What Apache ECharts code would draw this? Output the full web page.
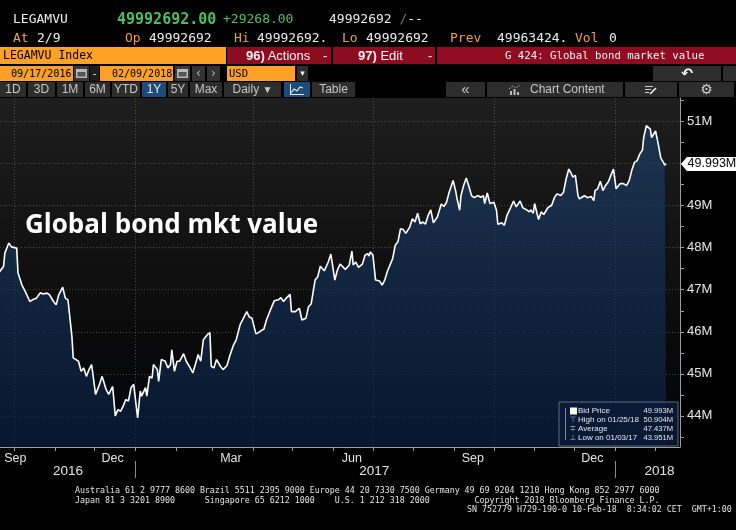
<!DOCTYPE html>
<html>
<head>
<meta charset="utf-8">
<title>LEGAMVU Index</title>
<script src="https://cdn.jsdelivr.net/npm/echarts@6/dist/echarts.min.js"></script>
<style>
html, body { margin: 0; padding: 0; background: #000; }
#wrap { position: relative; width: 736px; height: 530px; overflow: hidden; background: #000; }
#chart { position: absolute; left: 0; top: 0; width: 736px; height: 530px; }
.t { position: absolute; white-space: pre; font-family: "DejaVu Sans Mono", monospace; font-size: 13px; line-height: 16px; color: #ececec; }
.o { color: #efa149; }
.g { color: #49c25b; }
.b { position: absolute; box-sizing: border-box; overflow: hidden; white-space: pre; }
.or { background: #ffa126; color: #000; font-family: "DejaVu Sans Mono", monospace; font-size: 10px; }
.rd { background: #8c0d20; color: #f2f2f2; height: 17px; line-height: 17px; top: 47px; }
.gy { background: #2d2d2d; color: #c6c6c6; font-family: "Liberation Sans", sans-serif; font-size: 12px; text-align: center; line-height: 15px; top: 82px; height: 15px; }
.bl { background: #1c4c7c; color: #e6e6e6; }
.ft { position: absolute; white-space: pre; font-family: "DejaVu Sans Mono", monospace; font-size: 8.3px; line-height: 10px; color: #e4e4e4; }
svg { display: block; }
</style>
</head>
<body>
<div id="wrap">
  <div id="chart"></div>

  <!-- quote lines -->
  <div class="t" style="left:13px;top:11px">LEGAMVU</div>
  <div class="t g" style="left:117px;top:11px;font-size:15px;font-weight:bold">49992692.00</div>
  <div class="t g" style="left:223px;top:11px">+29268.00</div>
  <div class="t" style="left:329px;top:11px">49992692 <span style="color:#777">/</span>--</div>

  <div class="t o" style="left:13px;top:30px">At</div>
  <div class="t" style="left:37px;top:30px">2/9</div>
  <div class="t o" style="left:125px;top:30px">Op</div>
  <div class="t" style="left:149px;top:30px">49992692</div>
  <div class="t o" style="left:234px;top:30px">Hi</div>
  <div class="t" style="left:257px;top:30px">49992692.</div>
  <div class="t o" style="left:342px;top:30px">Lo</div>
  <div class="t" style="left:366px;top:30px">49992692</div>
  <div class="t o" style="left:450px;top:30px">Prev</div>
  <div class="t" style="left:497px;top:30px">49963424.</div>
  <div class="t o" style="left:575px;top:30px">Vol</div>
  <div class="t" style="left:609px;top:30px">0</div>

  <!-- title bar -->
  <div class="b or" style="left:0;top:47px;width:226px;height:17px;line-height:17px;padding-left:3px;font-size:11.5px">LEGAMVU Index</div>
  <div class="b rd" style="left:227px;width:104px;font-family:'Liberation Sans',sans-serif;font-size:13px;padding-left:19px"><b>96)</b> Actions<span style="position:absolute;left:96px;top:0">-</span></div>
  <div class="b rd" style="left:333px;width:102px;font-family:'Liberation Sans',sans-serif;font-size:13px;padding-left:25px"><b>97)</b> Edit<span style="position:absolute;left:95px;top:0">-</span></div>
  <div class="b rd" style="left:437px;width:299px;font-family:'DejaVu Sans Mono',monospace;font-size:10.7px;padding-left:68px;background:#900c21">G 424: Global bond market value</div>

  <!-- date row -->
  <div class="b or" style="left:0;top:66px;width:73px;height:15px;line-height:15px;padding-left:11px">09/17/2016</div>
  <div class="b" style="left:74px;top:66px;width:15px;height:15px;background:#3a3a3a;padding:3px 2px"><svg width="11" height="9"><rect x="0" y="0" width="11" height="9" fill="#b9b9b9"/><rect x="1.5" y="3" width="8" height="4.5" fill="#555"/></svg></div>
  <div class="b" style="left:90px;top:66px;width:9px;height:15px;background:#1e1e1e;color:#eee;font:11px 'Liberation Sans';line-height:15px;text-align:center">-</div>
  <div class="b or" style="left:100px;top:66px;width:73px;height:15px;line-height:15px;padding-left:12px">02/09/2018</div>
  <div class="b" style="left:175px;top:66px;width:15px;height:15px;background:#3a3a3a;padding:3px 2px"><svg width="11" height="9"><rect x="0" y="0" width="11" height="9" fill="#b9b9b9"/><rect x="1.5" y="3" width="8" height="4.5" fill="#555"/></svg></div>
  <div class="b" style="left:192px;top:66px;width:13px;height:15px;background:#333;color:#bbb;font:12px 'DejaVu Sans';line-height:15px;text-align:center">&lsaquo;</div>
  <div class="b" style="left:207px;top:66px;width:13px;height:15px;background:#333;color:#bbb;font:12px 'DejaVu Sans';line-height:15px;text-align:center">&rsaquo;</div>
  <div class="b or" style="left:227px;top:66px;width:68px;height:15px;line-height:15px;padding-left:2px;font-size:10.5px">USD</div>
  <div class="b" style="left:297px;top:66px;width:11px;height:15px;background:#2e2e2e;color:#eee;font:9px 'DejaVu Sans';line-height:15px;text-align:center">&#9662;</div>
  <div class="b" style="left:653px;top:66px;width:68px;height:15px;background:#2e2e2e;color:#fff;font:bold 14px 'DejaVu Sans';line-height:15px;text-align:center">&#8630;</div>
  <div class="b" style="left:723px;top:66px;width:13px;height:15px;background:#2e2e2e"></div>

  <!-- range buttons -->
  <div class="b gy" style="left:0;width:26px">1D</div>
  <div class="b gy" style="left:28px;width:27px">3D</div>
  <div class="b gy" style="left:57px;width:26px">1M</div>
  <div class="b gy" style="left:85px;width:25px">6M</div>
  <div class="b gy" style="left:112px;width:28px">YTD</div>
  <div class="b gy bl" style="left:142px;width:24px">1Y</div>
  <div class="b gy" style="left:168px;width:20px">5Y</div>
  <div class="b gy" style="left:190px;width:32px">Max</div>
  <div class="b gy" style="left:224px;width:57px">Daily <span style="font-size:10px">&#9660;</span></div>
  <div class="b gy bl" style="left:284px;width:26px;padding:2px 6px"><svg width="14" height="11"><polyline points="1,9 4,5 7,7 10,3 13,4" fill="none" stroke="#e8e8e8" stroke-width="1.2"/><line x1="0" y1="10.5" x2="14" y2="10.5" stroke="#e8e8e8"/><line x1="0.5" y1="0" x2="0.5" y2="11" stroke="#e8e8e8"/></svg></div>
  <div class="b gy" style="left:312px;width:43px">Table</div>
  <div class="b gy" style="left:446px;width:39px;font-size:15px;line-height:14px">&laquo;</div>
  <div class="b gy" style="left:487px;width:136px;text-align:left;padding-left:23px"><span style="position:absolute;left:22px;top:3px"><svg width="12" height="10"><rect x="1" y="6" width="2" height="4" fill="#bbb"/><rect x="4.5" y="4" width="2" height="6" fill="#bbb"/><rect x="8" y="7" width="2" height="3" fill="#bbb"/><polyline points="0,4 4,1 7,3 11,0" fill="none" stroke="#bbb" stroke-dasharray="1,1"/></svg></span><span style="position:absolute;left:43px">Chart Content</span></div>
  <div class="b gy" style="left:625px;width:52px;padding:3px 20px"><svg width="12" height="10"><line x1="0" y1="1.5" x2="8" y2="1.5" stroke="#ccc"/><line x1="0" y1="4.5" x2="6" y2="4.5" stroke="#ccc"/><line x1="0" y1="7.5" x2="4" y2="7.5" stroke="#ccc"/><line x1="5" y1="9" x2="11" y2="3" stroke="#eee" stroke-width="1.6"/></svg></div>
  <div class="b gy" style="left:679px;width:55px;font:14px 'DejaVu Sans';line-height:15px;color:#cfcfcf">&#9881;</div>

  <!-- footer -->
  <div class="ft" style="left:75px;top:485px">Australia 61 2 9777 8600 Brazil 5511 2395 9000 Europe 44 20 7330 7500 Germany 49 69 9204 1210 Hong Kong 852 2977 6000</div>
  <div class="ft" style="left:75px;top:495px">Japan 81 3 3201 8900      Singapore 65 6212 1000    U.S. 1 212 318 2000         Copyright 2018 Bloomberg Finance L.P.</div>
  <div class="ft" style="left:467px;top:504px">SN 752779 H729-190-0 10-Feb-18  8:34:02 CET  GMT+1:00</div>
</div>

<script>
// index level, millions of USD
var dates = [
    '2016-09-19', '2016-09-20', '2016-09-23', '2016-09-24', '2016-09-27', '2016-09-29',
    '2016-10-03', '2016-10-04', '2016-10-07', '2016-10-09', '2016-10-10', '2016-10-13', '2016-10-15',
    '2016-10-18', '2016-10-21', '2016-10-23', '2016-10-26', '2016-10-28', '2016-10-31',
    '2016-11-02', '2016-11-04', '2016-11-07', '2016-11-09', '2016-11-11', '2016-11-14', '2016-11-15',
    '2016-11-19', '2016-11-21', '2016-11-23', '2016-11-25', '2016-11-27', '2016-11-29',
    '2016-12-02', '2016-12-05', '2016-12-07', '2016-12-10', '2016-12-12', '2016-12-15', '2016-12-17',
    '2016-12-19', '2016-12-21', '2016-12-23', '2016-12-25', '2016-12-27', '2016-12-29', '2016-12-31',
    '2017-01-03', '2017-01-05', '2017-01-06', '2017-01-09', '2017-01-10', '2017-01-12', '2017-01-14',
    '2017-01-15', '2017-01-18', '2017-01-19', '2017-01-21', '2017-01-24', '2017-01-26', '2017-01-28',
    '2017-01-29', '2017-01-31',
    '2017-02-02', '2017-02-04', '2017-02-07', '2017-02-09', '2017-02-12', '2017-02-14', '2017-02-17',
    '2017-02-18', '2017-02-20', '2017-02-22', '2017-02-25', '2017-02-27', '2017-02-28',
    '2017-03-02', '2017-03-04', '2017-03-07', '2017-03-09', '2017-03-12', '2017-03-14', '2017-03-17',
    '2017-03-19', '2017-03-22', '2017-03-23', '2017-03-27', '2017-03-29', '2017-03-31',
    '2017-04-03', '2017-04-05', '2017-04-07', '2017-04-09', '2017-04-11', '2017-04-14', '2017-04-17',
    '2017-04-20', '2017-04-22', '2017-04-24', '2017-04-26', '2017-04-29', '2017-04-30',
    '2017-05-03', '2017-05-06', '2017-05-08', '2017-05-11', '2017-05-13', '2017-05-15', '2017-05-18',
    '2017-05-20', '2017-05-22', '2017-05-25', '2017-05-28', '2017-05-30',
    '2017-06-02', '2017-06-04', '2017-06-06', '2017-06-08', '2017-06-10', '2017-06-13', '2017-06-15',
    '2017-06-16', '2017-06-18', '2017-06-20', '2017-06-23', '2017-06-25', '2017-06-27', '2017-06-28',
    '2017-06-29',
    '2017-07-01', '2017-07-03', '2017-07-06', '2017-07-08', '2017-07-10', '2017-07-12', '2017-07-13',
    '2017-07-16', '2017-07-18', '2017-07-20', '2017-07-22', '2017-07-24', '2017-07-26', '2017-07-29',
    '2017-07-31',
    '2017-08-02', '2017-08-04', '2017-08-06', '2017-08-08', '2017-08-10', '2017-08-12', '2017-08-14',
    '2017-08-16', '2017-08-19', '2017-08-22', '2017-08-24', '2017-08-26', '2017-08-28', '2017-08-31',
    '2017-09-02', '2017-09-03', '2017-09-05', '2017-09-06', '2017-09-08', '2017-09-10', '2017-09-12',
    '2017-09-14', '2017-09-16', '2017-09-19', '2017-09-21', '2017-09-23', '2017-09-24', '2017-09-26',
    '2017-09-28',
    '2017-10-01', '2017-10-03', '2017-10-04', '2017-10-07', '2017-10-09', '2017-10-11', '2017-10-14',
    '2017-10-16', '2017-10-18', '2017-10-19', '2017-10-21', '2017-10-23', '2017-10-26', '2017-10-28',
    '2017-10-29', '2017-10-31',
    '2017-11-01', '2017-11-04', '2017-11-06', '2017-11-08', '2017-11-11', '2017-11-14', '2017-11-16',
    '2017-11-18', '2017-11-21', '2017-11-23', '2017-11-25', '2017-11-27', '2017-11-29', '2017-11-30',
    '2017-12-02', '2017-12-04', '2017-12-05', '2017-12-07', '2017-12-09', '2017-12-11', '2017-12-14',
    '2017-12-16', '2017-12-17', '2017-12-19', '2017-12-21', '2017-12-23', '2017-12-25', '2017-12-27',
    '2017-12-29', '2017-12-31',
    '2018-01-02', '2018-01-05', '2018-01-07', '2018-01-10', '2018-01-12', '2018-01-14', '2018-01-16',
    '2018-01-18', '2018-01-20', '2018-01-22', '2018-01-23', '2018-01-25', '2018-01-28', '2018-01-29',
    '2018-02-01', '2018-02-03', '2018-02-05', '2018-02-06', '2018-02-07', '2018-02-08', '2018-02-09'
];
var values = [
    47.36, 47.43, 47.55, 47.87, 48.11, 48.02,
    47.99, 47.40, 47.11, 46.99, 46.95, 46.72, 46.76,
    46.80, 46.93, 46.90, 46.92, 46.88, 46.72,
    46.64, 46.88, 47.06, 46.80, 46.76, 45.89, 45.38,
    45.30, 45.06, 45.14, 44.94, 45.10, 45.22,
    44.51, 44.75, 44.94, 44.63, 44.51, 44.70, 44.00,
    44.15, 44.11, 44.23, 44.39, 44.35, 44.67, 44.75,
    43.951, 44.59, 44.47, 44.67, 44.47, 44.94, 44.90,
    45.22, 45.10, 44.82, 45.34, 45.30, 45.14, 45.22,
    45.57, 45.06,
    45.30, 45.30, 45.48, 45.30, 45.14, 45.02, 45.34,
    45.46, 45.30, 45.81, 45.93, 45.98, 45.18,
    45.14, 45.34, 45.18, 45.10, 45.20, 45.42, 45.69,
    45.81, 46.17, 46.14, 46.48, 46.35, 46.32,
    45.95, 45.98, 46.03, 46.06, 46.28, 46.52, 46.74,
    46.76, 46.81, 46.72, 46.80, 46.89, 46.48,
    46.48, 46.56, 46.28, 46.32, 46.60, 46.66, 47.23,
    47.31, 47.56, 47.45, 47.66, 47.85,
    47.23, 47.47, 47.61, 47.55, 47.48, 47.59, 47.92,
    47.59, 47.66, 47.53, 47.61, 47.82, 47.86, 47.80,
    47.90,
    47.82, 47.23, 47.21, 47.11, 47.23, 47.44, 47.47,
    47.74, 48.06, 48.14, 48.45, 48.43, 48.34, 48.49,
    48.69,
    48.61, 48.82, 48.57, 48.61, 48.56, 48.77, 48.90,
    48.59, 48.73, 49.04, 48.98, 49.08, 49.32, 49.60,
    49.34, 49.16, 48.89, 49.24, 49.48, 49.66, 49.46,
    49.24, 49.19, 49.24, 49.20, 49.24, 49.05, 49.30,
    49.05,
    49.08, 48.89, 48.56, 48.59, 48.53, 48.77, 48.97,
    49.11, 48.97, 48.95, 49.11, 48.95, 48.90, 48.85,
    48.90, 48.82,
    49.05, 48.67, 48.85, 48.79, 48.95, 49.01, 49.19,
    49.28, 49.24, 49.32, 49.64, 49.87, 49.76, 49.68,
    49.72, 49.24, 49.16, 49.20, 49.24, 49.19, 49.22,
    49.12, 49.36, 49.40, 49.58, 49.36, 49.48, 49.56,
    49.72, 49.87,
    49.40, 49.52, 49.53, 49.48, 49.60, 49.85, 50.03,
    50.07, 50.23, 50.32, 50.62, 50.904, 50.82, 50.62,
    50.78, 50.47, 50.13, 50.15, 50.03, 49.963, 49.993
];

// axis marks
var monthTicks = ['2016-10-01', '2016-11-01', '2016-12-01', '2017-01-01', '2017-02-01', '2017-03-01',
    '2017-04-01', '2017-05-01', '2017-06-01', '2017-07-01', '2017-08-01', '2017-09-01', '2017-10-01',
    '2017-11-01', '2017-12-01', '2018-01-01', '2018-02-01'];
var monthLabelDates = ['2016-10-02', '2016-12-15', '2017-03-15', '2017-06-15', '2017-09-15', '2017-12-15'];
var monthLabels = ['Sep', 'Dec', 'Mar', 'Jun', 'Sep', 'Dec'];
var quarterLines = ['2016-10-01', '2017-01-01', '2017-04-01', '2017-07-01', '2017-10-01', '2018-01-01'];
var yearTicks = ['2017-01-01', '2018-01-01'];
var yearLabelDates = ['2016-11-11', '2017-07-02', '2018-02-04'];
var yearLabels = ['2016', '2017', '2018'];
var yLabelValues = [44, 45, 46, 47, 48, 49, 50, 51];
var yTickValues = [43.5, 44, 44.5, 45, 45.5, 46, 46.5, 47, 47.5, 48, 48.5, 49, 49.5, 50, 50.5, 51, 51.5];

var legendRows = [
    ['Bid Price', '49.993M'],
    ['High on 01/25/18', '50.904M'],
    ['Average', '47.437M'],
    ['Low on 01/03/17', '43.951M']
];

var DAY0 = Date.UTC(2017, 0, 1);
function toDay(s) {
    var p = s.split('-');
    return (Date.UTC(+p[0], +p[1] - 1, +p[2]) - DAY0) / 86400000;
}
function nameAt(list, names, v) {
    for (var i = 0; i < list.length; i++) {
        if (Math.abs(toDay(list[i]) - v) < 0.5) return names[i];
    }
    return '';
}

var points = dates.map(function (d, i) { return [toDay(d), values[i]]; });
var lastValue = values[values.length - 1];

var xMin = -102.7, xMax = 414.6;
var yMin = 43.26, yMax = 51.56;
var axisGray = '#9c9c9c';
var gridDot = 'rgba(150,150,150,0.42)';
var labelFont = '"Liberation Sans", Arial, sans-serif';

// legend box sits above the area fill, so every child gets a high z
var legendChildren = [{
    type: 'rect', z: 20,
    shape: { x: 0, y: 0, width: 119, height: 44 },
    style: { fill: 'rgba(11,26,54,0.82)', stroke: '#5d6b80', lineWidth: 1 }
}, {
    type: 'line', z: 21,
    shape: { x1: 6.5, y1: 6, x2: 6.5, y2: 38 },
    style: { stroke: '#7f8a9a', lineWidth: 1 }
}, {
    type: 'rect', z: 21,
    shape: { x: 11, y: 5.5, width: 7, height: 7 },
    style: { fill: '#fff' }
}];
var legendMarks = ['', '\u22A4', '\u2213', '\u22A5'];
legendRows.forEach(function (row, i) {
    var y = 9 + i * 9;
    if (legendMarks[i]) {
        legendChildren.push({
            type: 'text', x: 14, y: y, z: 21,
            style: { text: legendMarks[i], fill: '#aab3c0', fontSize: 7.5, fontFamily: 'DejaVu Sans', align: 'center', verticalAlign: 'middle' }
        });
    }
    legendChildren.push({
        type: 'text', x: 19, y: y, z: 21,
        style: { text: row[0], fill: '#e4e8ee', fontSize: 8, fontFamily: labelFont, verticalAlign: 'middle' }
    }, {
        type: 'text', x: 114, y: y, z: 21,
        style: { text: row[1], fill: '#e4e8ee', fontSize: 7.6, fontFamily: labelFont, align: 'right', verticalAlign: 'middle' }
    });
});

var dom = document.getElementById('chart');
var myChart = echarts.init(dom, null, { renderer: 'canvas' });

var option = {
    backgroundColor: '#000',
    animation: false,
    grid: {
        left: 0, right: 56, top: 98, bottom: 83,
        show: true,
        borderWidth: 0,
        backgroundColor: new echarts.graphic.LinearGradient(0, 0, 0, 1, [
            { offset: 0, color: '#1e1e1e' },
            { offset: 0.35, color: '#141414' },
            { offset: 0.7, color: '#0a0a0b' },
            { offset: 1, color: '#03050c' }
        ])
    },
    xAxis: [{
        // month ticks and labels
        type: 'value', min: xMin, max: xMax, position: 'bottom',
        axisLine: { show: true, onZero: false, lineStyle: { color: axisGray } },
        axisTick: { show: true, customValues: monthTicks.map(toDay), length: 4, lineStyle: { color: axisGray } },
        axisLabel: {
            customValues: monthLabelDates.map(toDay),
            formatter: function (v) { return nameAt(monthLabelDates, monthLabels, v); },
            color: '#e4e4e4', fontSize: 12.5, fontFamily: labelFont, margin: 5
        },
        splitLine: { show: false }
    }, {
        // quarter grid lines
        type: 'value', min: xMin, max: xMax, position: 'bottom', z: 3,
        axisLine: { show: false, onZero: false },
        axisTick: { show: false, customValues: quarterLines.map(toDay) },
        axisLabel: { show: false },
        splitLine: { show: true, lineStyle: { color: gridDot, type: [1, 2], width: 1 } }
    }, {
        // years
        type: 'value', min: xMin, max: xMax, position: 'bottom', offset: 14,
        axisLine: { show: false, onZero: false },
        axisTick: { show: true, customValues: yearTicks.map(toDay), length: 17, lineStyle: { color: '#8a8a8a' } },
        axisLabel: {
            customValues: yearLabelDates.map(toDay),
            formatter: function (v) { return nameAt(yearLabelDates, yearLabels, v); },
            color: '#e4e4e4', fontSize: 13.5, fontFamily: labelFont, margin: 3
        },
        splitLine: { show: false }
    }],
    yAxis: [{
        type: 'value', position: 'right', min: yMin, max: yMax,
        axisLine: { show: true, onZero: false, lineStyle: { color: axisGray } },
        axisTick: { show: true, customValues: yTickValues, length: 4, lineStyle: { color: axisGray } },
        axisLabel: {
            customValues: yLabelValues,
            formatter: function (v) { return v + 'M'; },
            color: '#e6e6e6', fontSize: 13, fontFamily: labelFont, margin: 7
        },
        splitLine: { show: false }
    }, {
        type: 'value', position: 'right', min: yMin, max: yMax, z: 3,
        axisLine: { show: false, onZero: false },
        axisTick: { show: false, customValues: yLabelValues },
        axisLabel: { show: false },
        splitLine: { show: true, lineStyle: { color: gridDot, type: [1, 2], width: 1 } }
    }],
    series: [{
        name: 'Bid Price',
        type: 'line',
        xAxisIndex: 0,
        yAxisIndex: 0,
        data: points,
        symbol: 'none',
        silent: true,
        lineStyle: { color: '#ffffff', width: 1.6 },
        areaStyle: {
            origin: 'start',
            color: new echarts.graphic.LinearGradient(0, 0, 0, 1, [
                { offset: 0, color: '#1d3e66' },
                { offset: 1, color: '#0a1e3f' }
            ])
        },
        markPoint: {
            silent: true,
            symbol: 'path://M0,7L6,0L56,0L56,14L6,14Z',
            symbolSize: [56, 14],
            symbolKeepAspect: false,
            symbolOffset: [29, 0],
            itemStyle: { color: '#ffffff' },
            label: {
                show: true, position: 'inside', offset: [3, 0],
                formatter: lastValue.toFixed(3) + 'M',
                color: '#000', fontSize: 12.5, fontFamily: labelFont
            },
            data: [{ coord: [xMax - 0.05, lastValue] }]
        }
    }],
    graphic: [{
        type: 'text',
        left: 25, top: 213,
        z: 20,
        style: {
            text: 'Global bond mkt value',
            fill: '#ffffff',
            fontSize: 26,
            fontWeight: 'bold',
            fontFamily: '"Open Sans", sans-serif'
        }
    }, {
        type: 'group',
        x: 559, y: 402,
        z: 20,
        children: legendChildren
    }]
};

myChart.setOption(option, true);
</script>
</body>
</html>
